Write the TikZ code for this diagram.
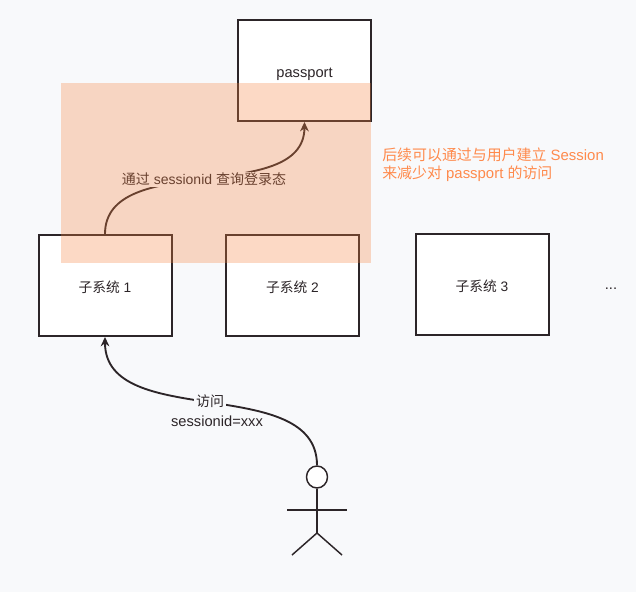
\documentclass[tikz,border=0pt]{standalone}
\usepackage{fontspec}
\setmainfont{Liberation Sans}
\newfontfamily\cjkfont{Noto Sans CJK SC}
\newcommand{\zh}[1]{{\cjkfont #1}}
\usetikzlibrary{arrows.meta,shapes.geometric}
\definecolor{pagebg}{RGB}{248,249,251}
\definecolor{inkline}{RGB}{44,37,40}
\definecolor{overlayorange}{RGB}{247,130,63}
\definecolor{noteorange}{RGB}{255,138,76}
\tikzset{
  sysbox/.style={draw=inkline,line width=1.5pt,fill=white,minimum width=99.75pt,minimum height=75.75pt,inner sep=0pt,text=inkline,text height=10pt,text depth=0pt,font=\fontsize{10.3pt}{12pt}\selectfont},
  linktext/.style={text=inkline,inner sep=1.5pt,font=\fontsize{10.5pt}{13pt}\selectfont},
  notetext/.style={text=noteorange,inner sep=0pt,anchor=west,font=\fontsize{11.2pt}{13pt}\selectfont},
  linkcurve/.style={draw=inkline,line width=1.4pt,-{Stealth[length=7pt,width=6.5pt]}},
  stickline/.style={draw=inkline,line width=1.1pt}
}
\begin{document}
\begin{tikzpicture}[x=0.75pt,y=0.75pt,yscale=-1]
%Background
\fill[pagebg] (0,0) rectangle (636,592);
\useasboundingbox (0,0) rectangle (636,592);

%Boxes
\node[sysbox,font=\fontsize{11pt}{12pt}\selectfont] (passport) at (304.5,70.5) {passport};
\node[sysbox] (sysone) at (105,285.5) {\zh{子系统} 1};
\node[sysbox] (systwo) at (292.5,285.5) {\zh{子系统} 2};
\node[sysbox] (systhree) at (482,284.5) {\zh{子系统} 3};
\node[linktext,font=\fontsize{11pt}{13pt}\selectfont] (moredots) at (611,289) {...};

%Stick figure
\node[draw=inkline,line width=1.1pt,fill=white,ellipse,minimum width=15.75pt,minimum height=16.5pt,inner sep=0pt] (head) at (317,477) {};
\coordinate (hip) at (317,533);
\coordinate (armleft) at (287,510);
\coordinate (armright) at (347,510);
\coordinate (legleft) at (292,555);
\coordinate (legright) at (342,555);
\draw[stickline] (head.south) -- (hip);
\draw[stickline] (armleft) -- (armright);
\draw[stickline] (legleft) -- (hip) -- (legright);

%Curve Lines
\draw[linkcurve] (head.north) .. controls (317,373) and (105,431) .. (sysone.south);
\draw[linkcurve] (sysone.north) .. controls (105,150) and (304,206) .. (passport.south);

%Labels
\node[linktext,fill=pagebg] (visitlabel) at (210,401) {\zh{访问}};
\node[linktext,font=\fontsize{11pt}{13pt}\selectfont] (sidlabel) at (217,421) {sessionid=xxx};
\node[linktext,fill=pagebg,inner xsep=0pt,inner ysep=1pt] (querylabel) at (204,179.5) {\zh{通过} sessionid \zh{查询登录态}};

%Overlay
\fill[overlayorange,opacity=0.3] (61,83) rectangle (371,263);

%Note
\node[notetext] (noteone) at (382,155) {\zh{后续可以通过与用户建立} Session};
\node[notetext] (notetwo) at (382,173.5) {\zh{来减少对} passport \zh{的访问}};
\end{tikzpicture}
\end{document}
